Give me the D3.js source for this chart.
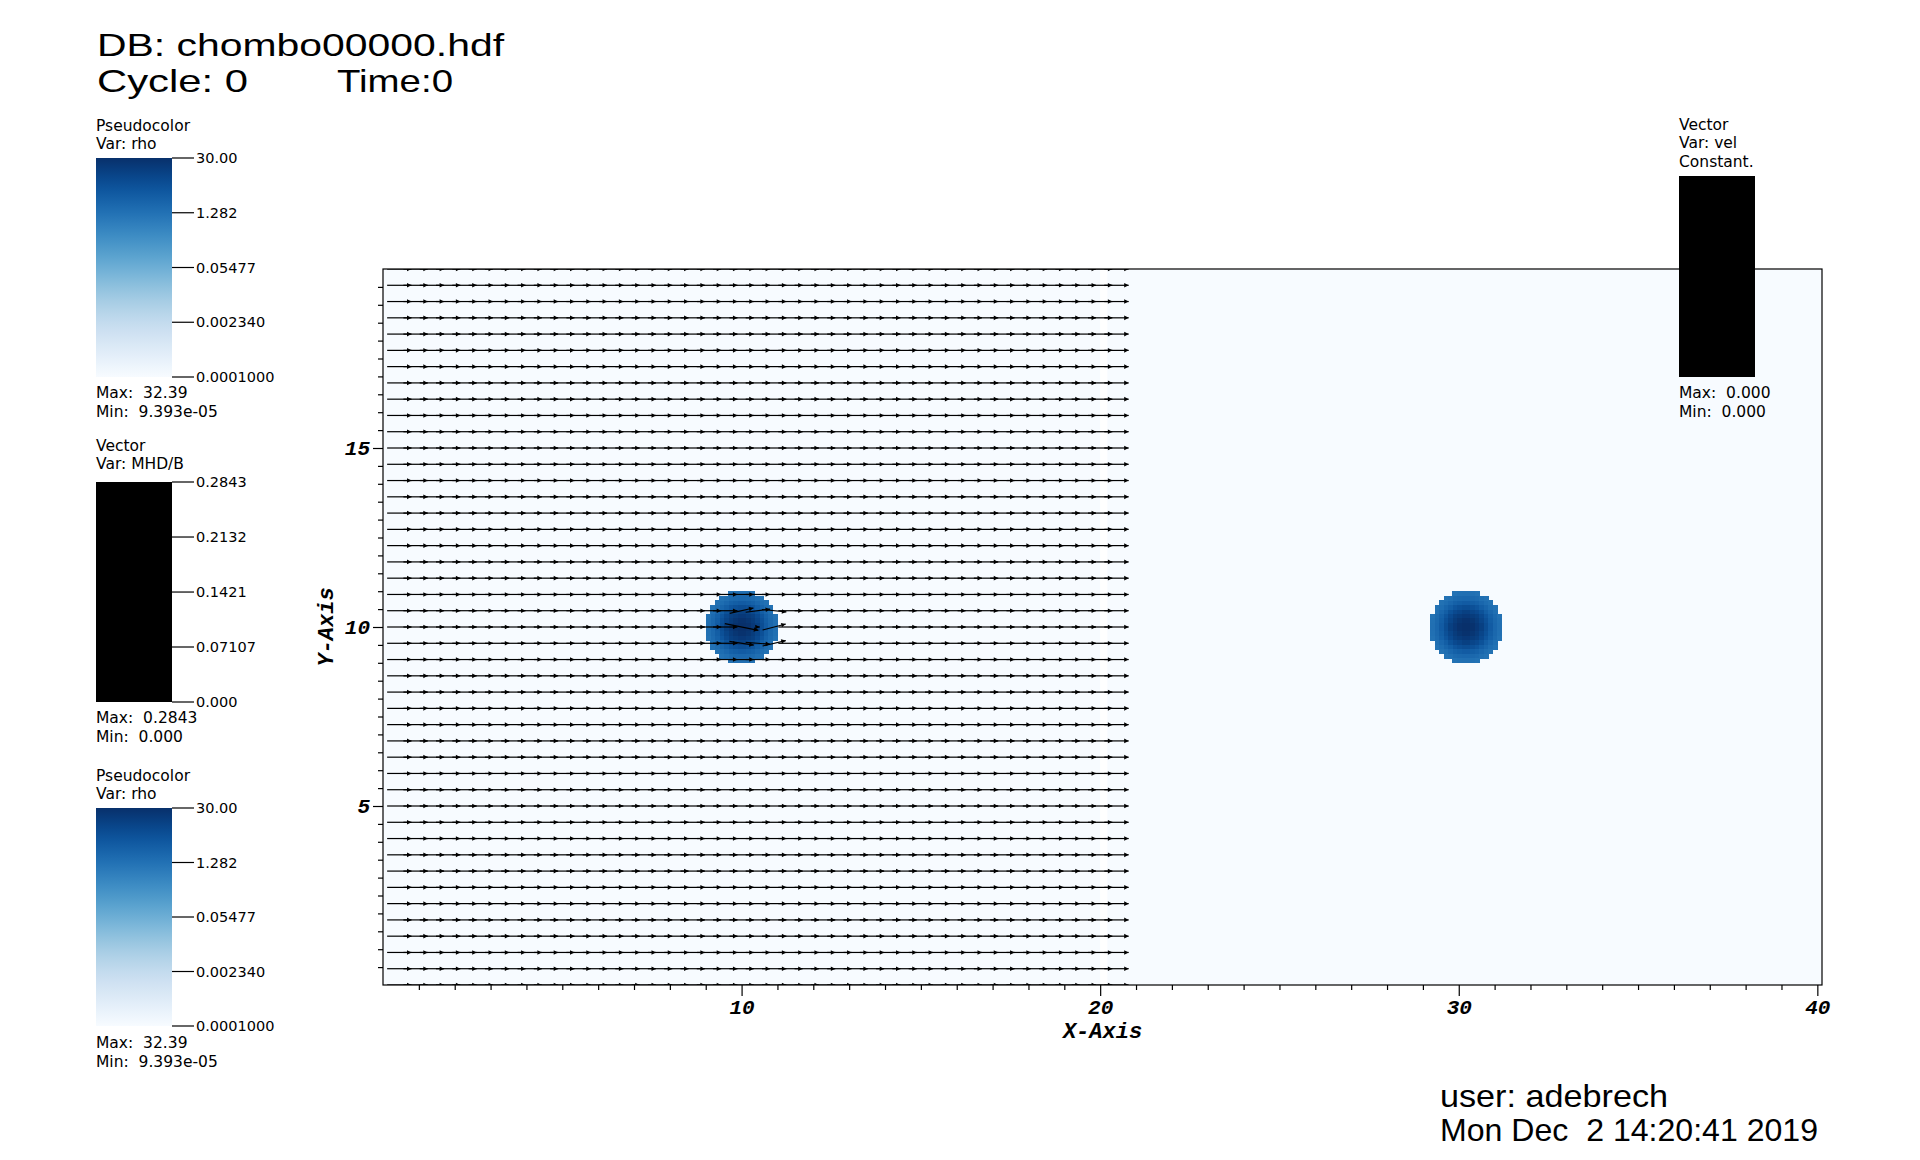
<!DOCTYPE html>
<html><head><meta charset="utf-8">
<script src="https://cdn.jsdelivr.net/npm/d3@7"></script>
<style>
body{margin:0;background:#fff}
svg{display:block}
text{white-space:pre}
</style>
</head><body>
<svg id="chart" width="1920" height="1160"></svg>
<script>
// ---------------- data ----------------
const dbLabel = "DB: chombo00000.hdf";
const cycleLabel = "Cycle: 0";
const timeLabel = "Time:0";
const userLabel = "user: adebrech";
const dateLabel = "Mon Dec  2 14:20:41 2019";

const xMajorTicks = [10, 20, 30, 40];
const xMinorTicks = [1,2,3,4,5,6,7,8,9,11,12,13,14,15,16,17,18,19,21,22,23,24,25,26,27,28,29,31,32,33,34,35,36,37,38,39];
const yMajorTicks = [5, 10, 15];
const yMinorTicks = [0.5,1,1.5,2,2.5,3,3.5,4,4.5,5.5,6,6.5,7,7.5,8,8.5,9,9.5,10.5,11,11.5,12,12.5,13,13.5,14,14.5,15.5,16,16.5,17,17.5,18,18.5,19,19.5];

const rhoLegendTicks = [30, 1.282, 0.05477, 0.002340, 0.0001];
const rhoLegendLabels = ["30.00", "1.282", "0.05477", "0.002340", "0.0001000"];
const rhoMax = "32.39", rhoMin = "9.393e-05";
const bLegendTicks = [0.2843, 0.2132, 0.1421, 0.07107, 0];
const bLegendLabels = ["0.2843", "0.2132", "0.1421", "0.07107", "0.000"];
const bMax = "0.2843", bMin = "0.000";
const velMax = "0.000", velMin = "0.000";

// patch domains (background density)
const patchX0 = [0, 20.2];
const patchX1 = [20, 40.2];
const patchRho = [1e-4, 1e-4];

// density blobs: centers and one quadrant of cell values (rows = |dy| index, cols = |dx| index)
const blobCX = [10, 30.2];
const blobCY = [10, 10];
const cellSize = 0.125;
const blobQuadrant = [
  [31, 27, 20, 14, 7.5, 3.7, 2.1, 1.4],
  [27, 23, 17, 11, 6.5, 3.3, 2.0, 1.35],
  [20, 17, 14, 9, 5, 2.8, 1.8, 1.25],
  [14, 11, 9, 6, 3.3, 2.1, 1.45, null],
  [7.5, 6.5, 5, 3.3, 2.3, 1.6, 1.25, null],
  [3.7, 3.3, 2.8, 2.1, 1.6, 1.3, null, null],
  [2.1, 2.0, 1.8, 1.45, 1.25, null, null, null],
  [1.4, 1.35, 1.25, null, null, null, null, null]
];

// vector (MHD/B) sample positions
const vecGridX = [0.455,0.909,1.364,1.818,2.273,2.727,3.182,3.636,4.091,4.545,5.000,5.455,5.909,6.364,6.818,7.273,7.727,8.182,8.636,9.091,9.545,10.000,10.455,10.909,11.364,11.818,12.273,12.727,13.182,13.636,14.091,14.545,15.000,15.455,15.909,16.364,16.818,17.273,17.727,18.182,18.636,19.091,19.545,20.000,20.455];
const vecGridY = [0.000,0.455,0.909,1.364,1.818,2.273,2.727,3.182,3.636,4.091,4.545,5.000,5.455,5.909,6.364,6.818,7.273,7.727,8.182,8.636,9.091,9.545,10.000,10.455,10.909,11.364,11.818,12.273,12.727,13.182,13.636,14.091,14.545,15.000,15.455,15.909,16.364,16.818,17.273,17.727,18.182,18.636,19.091,19.545,20.000];
const defaultBx = 0.2, defaultBy = 0;
// perturbed field near the left blob: [x, y, Bx, By]
const perturbedB = [
  [10.000, 10.455, 0.195, 0.045],
  [10.455, 10.455, 0.200, 0.025],
  [10.909, 10.455, 0.200, -0.020],
  [10.000, 10.000, 0.275, -0.055],
  [10.455, 10.000, 0.030, 0.000],
  [10.909, 10.000, 0.190, 0.050],
  [10.000, 9.545, 0.200, -0.030],
  [10.455, 9.545, 0.200, -0.015],
  [10.909, 9.545, 0.190, 0.045]
];

// ---------------- drawing ----------------
const svg = d3.select("#chart");
const plot = {left: 383, right: 1822, top: 269, bottom: 985};
const x = d3.scaleLinear().domain([0, 40.13]).range([plot.left, plot.right]);
const y = d3.scaleLinear().domain([0, 20]).range([plot.bottom, plot.top]);
const color = d3.scaleSequentialLog(d3.interpolateBlues).domain([1e-4, 30]).clamp(true);
const glyphLen = d3.scaleLinear().domain([0, 0.2]).range([0, 0.68]);

svg.append("defs").append("clipPath").attr("id", "plotClip")
  .append("rect").attr("x", plot.left).attr("y", plot.top)
  .attr("width", plot.right - plot.left).attr("height", plot.bottom - plot.top);

const field = svg.append("g").attr("clip-path", "url(#plotClip)");

// patches
field.selectAll("rect.patch").data(patchX0.map((d, k) => ({x0: d, x1: patchX1[k], rho: patchRho[k]})))
  .join("rect").attr("class", "patch")
  .attr("x", d => x(d.x0)).attr("width", d => x(d.x1) - x(d.x0))
  .attr("y", y(20)).attr("height", y(0) - y(20))
  .attr("fill", d => color(d.rho));

// blobs
const cells = [];
blobCX.forEach((cx, b) => {
  const cy = blobCY[b];
  blobQuadrant.forEach((row, j) => {
    row.forEach((v, i) => {
      if (v == null) return;
      [1, -1].forEach(sx => [1, -1].forEach(sy => {
        const x0 = sx > 0 ? cx + i * cellSize : cx - (i + 1) * cellSize;
        const y0 = sy > 0 ? cy + j * cellSize : cy - (j + 1) * cellSize;
        cells.push({x0, y0, v});
      }));
    });
  });
});
field.append("g").attr("shape-rendering", "crispEdges")
  .selectAll("rect").data(cells).join("rect")
  .attr("x", d => x(d.x0)).attr("y", d => y(d.y0 + cellSize))
  .attr("width", d => x(d.x0 + cellSize) - x(d.x0) + 0.4)
  .attr("height", d => y(d.y0) - y(d.y0 + cellSize) + 0.4)
  .attr("fill", d => color(d.v));

// vectors
const pmap = new Map(perturbedB.map(p => [p[0].toFixed(3) + "," + p[1].toFixed(3), p]));
const arrows = [];
vecGridY.forEach(gy => vecGridX.forEach(gx => {
  const p = pmap.get(gx.toFixed(3) + "," + gy.toFixed(3));
  const bx = p ? p[2] : defaultBx, by = p ? p[3] : defaultBy;
  const mag = Math.hypot(bx, by);
  if (mag === 0) return;
  const L = glyphLen(mag), ux = bx / mag, uy = by / mag;
  arrows.push({
    tx: x(gx - ux * L / 2), ty: y(gy - uy * L / 2),
    hx: x(gx + ux * L / 2), hy: y(gy + uy * L / 2)
  });
}));
const vg = field.append("g");
vg.selectAll("line").data(arrows).join("line")
  .attr("x1", d => d.tx).attr("y1", d => d.ty)
  .attr("x2", d => d.hx).attr("y2", d => d.hy)
  .attr("stroke", "#000").attr("stroke-width", 1.2);
vg.selectAll("path").data(arrows).join("path")
  .attr("fill", "#000")
  .attr("d", d => {
    const dx = d.hx - d.tx, dy = d.hy - d.ty, n = Math.hypot(dx, dy);
    const ex = dx / n, ey = dy / n;
    const bx = d.hx - ex * 4.5, by = d.hy - ey * 4.5;
    const w = 2.3;
    return `M${d.hx},${d.hy}L${bx - ey * w},${by + ex * w}L${bx + ey * w},${by - ex * w}Z`;
  });

// border
svg.append("rect").attr("x", plot.left).attr("y", plot.top)
  .attr("width", plot.right - plot.left).attr("height", plot.bottom - plot.top)
  .attr("fill", "none").attr("stroke", "#000").attr("stroke-width", 1.2);

// axes
const tickFont = g => g.attr("font-family", "'Liberation Mono', 'DejaVu Sans Mono', monospace")
  .attr("font-size", 21).attr("font-weight", "bold").attr("font-style", "italic");
svg.append("g").attr("transform", `translate(0,${plot.bottom})`)
  .call(d3.axisBottom(x).tickValues(xMinorTicks).tickSize(5).tickFormat(""));
svg.append("g").attr("transform", `translate(0,${plot.bottom})`)
  .call(d3.axisBottom(x).tickValues(xMajorTicks).tickSize(11).tickPadding(3).tickFormat(d3.format("d")))
  .call(tickFont);
svg.append("g").attr("transform", `translate(${plot.left},0)`)
  .call(d3.axisLeft(y).tickValues(yMinorTicks).tickSize(5).tickFormat(""));
svg.append("g").attr("transform", `translate(${plot.left},0)`)
  .call(d3.axisLeft(y).tickValues(yMajorTicks).tickSize(10).tickPadding(3).tickFormat(d3.format("d")))
  .call(tickFont);
svg.selectAll(".domain").remove();
svg.selectAll(".tick line").attr("stroke", "#000").attr("stroke-width", 1.2);
svg.selectAll(".tick text").attr("fill", "#000");

svg.append("text").attr("x", (plot.left + plot.right) / 2).attr("y", 1038)
  .attr("text-anchor", "middle").call(tickFont).attr("font-size", 22).text("X-Axis");
svg.append("text").attr("transform", `translate(333,${(plot.top + plot.bottom) / 2}) rotate(-90)`)
  .attr("text-anchor", "middle").call(tickFont).attr("font-size", 22).text("Y-Axis");

// big annotation texts
const bigFont = "'Liberation Sans', Arial, sans-serif";
function bigText(s, tx, ty, len) {
  svg.append("text").attr("x", tx).attr("y", ty).attr("font-family", bigFont).attr("font-size", 32)
    .attr("textLength", len).attr("lengthAdjust", "spacingAndGlyphs").attr("fill", "#000").text(s);
}
bigText(dbLabel, 97, 56, 407);
bigText(cycleLabel, 97, 92, 151);
bigText(timeLabel, 337, 92, 116);
bigText(userLabel, 1440, 1107, 228);
bigText(dateLabel, 1440, 1141, 378);

// legends
const smallFont = "'DejaVu Sans', sans-serif";
function legendTitle(lines, lx, baselines) {
  lines.forEach((s, k) => svg.append("text").attr("x", lx).attr("y", baselines[k])
    .attr("font-family", smallFont).attr("font-size", 15.5).attr("fill", "#000").text(s));
}
const grad = svg.select("defs").append("linearGradient").attr("id", "rhoGrad")
  .attr("x1", 0).attr("y1", 1).attr("x2", 0).attr("y2", 0);
d3.range(0, 1.0001, 0.05).forEach(t => {
  grad.append("stop").attr("offset", t).attr("stop-color", d3.interpolateBlues(t));
});
function colorBar(top, bottom, fill, ticks, labels, scaleType, domain) {
  svg.append("rect").attr("x", 96).attr("y", top).attr("width", 76).attr("height", bottom - top).attr("fill", fill);
  const s = (scaleType === "log" ? d3.scaleLog() : d3.scaleLinear()).domain(domain).range([bottom, top]);
  ticks.forEach((t, k) => {
    const ty = s(t);
    svg.append("line").attr("x1", 172).attr("x2", 194).attr("y1", ty).attr("y2", ty)
      .attr("stroke", "#000").attr("stroke-width", 1.2);
    svg.append("text").attr("x", 196).attr("y", ty).attr("dy", "0.36em")
      .attr("font-family", smallFont).attr("font-size", 14.5).attr("fill", "#000").text(labels[k]);
  });
}
// legend 1
legendTitle(["Pseudocolor", "Var: rho"], 96, [130.7, 149.3]);
colorBar(158, 377, "url(#rhoGrad)", rhoLegendTicks, rhoLegendLabels, "log", [1e-4, 30]);
legendTitle(["Max:  " + rhoMax, "Min:  " + rhoMin], 96, [398, 417]);
// legend 2
legendTitle(["Vector", "Var: MHD/B"], 96, [451, 469.3]);
colorBar(482, 702, "#000", bLegendTicks, bLegendLabels, "linear", [0, 0.2843]);
legendTitle(["Max:  " + bMax, "Min:  " + bMin], 96, [723, 742]);
// legend 3
legendTitle(["Pseudocolor", "Var: rho"], 96, [780.7, 799.3]);
colorBar(808, 1026, "url(#rhoGrad)", rhoLegendTicks, rhoLegendLabels, "log", [1e-4, 30]);
legendTitle(["Max:  " + rhoMax, "Min:  " + rhoMin], 96, [1048, 1067]);
// right legend (velocity)
legendTitle(["Vector", "Var: vel", "Constant."], 1679, [130, 148.3, 167]);
svg.append("rect").attr("x", 1679).attr("y", 176).attr("width", 76).attr("height", 201).attr("fill", "#000");
legendTitle(["Max:  " + velMax, "Min:  " + velMin], 1679, [398.3, 416.7]);
</script>
</body></html>
